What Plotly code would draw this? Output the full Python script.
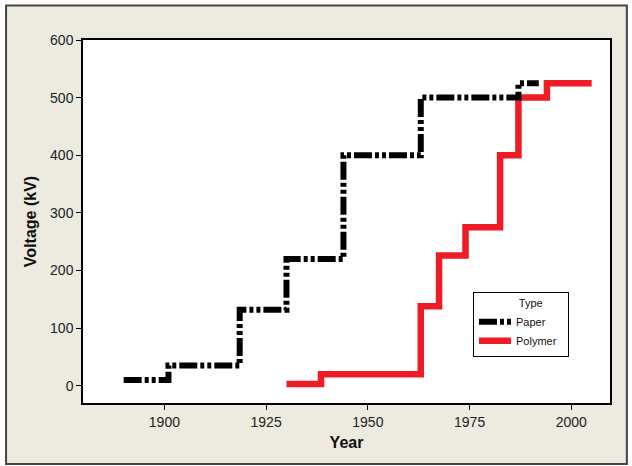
import plotly.graph_objects as go

# Data
paper_years = [1890, 1901, 1918.5, 1930, 1944, 1963, 1987, 1992]
paper_kv = [10, 35, 132, 220, 400, 500, 525, 525]

polymer_years = [1930, 1938.5, 1963, 1967.5, 1974, 1982.5, 1987, 1994, 2005]
polymer_kv = [3, 20, 138, 226, 275, 400, 500, 525, 525]

x_ticks = [1900, 1925, 1950, 1975, 2000]
y_ticks = [0, 100, 200, 300, 400, 500, 600]

FONT = "Liberation Sans"

fig = go.Figure()
fig.add_trace(go.Scatter(
    x=polymer_years, y=polymer_kv, name="Polymer\u00a0\u00a0", mode="lines",
    line=dict(shape="hv", color="#EE1C25", width=6.5), legendrank=2,
))
fig.add_trace(go.Scatter(
    x=paper_years, y=paper_kv, name="Paper", mode="lines",
    line=dict(shape="hv", color="black", width=6,
              dash="18px,3px,4px,3px,4px,3px"), legendrank=1,
))

axis_common = dict(
    showgrid=False, zeroline=False, showline=True, mirror=True,
    linecolor="black", linewidth=1.5,
    ticks="outside", ticklen=5, tickwidth=1, tickcolor="black",
    tickfont=dict(family=FONT, size=14, color="#222222"),
    automargin=False,
)

fig.update_xaxes(
    range=[1880, 2009.5], tickvals=x_ticks, ticktext=[str(v) for v in x_ticks],
    title=dict(text="<b>Year</b>", font=dict(family=FONT, size=16, color="#111111"),
               standoff=8),
    **axis_common,
)
fig.update_yaxes(
    range=[-30, 600], tickvals=y_ticks, ticktext=[str(v) for v in y_ticks],
    title=dict(text="<b>Voltage (kV)</b>", font=dict(family=FONT, size=16, color="#111111"),
               standoff=9),
    **axis_common,
)

# outer beige frame
fig.add_shape(
    type="rect", xref="paper", yref="paper",
    x0=-0.146, x1=1.032, y0=-0.168, y1=1.095,
    fillcolor="#EDEAE0", line=dict(color="#444444", width=2), layer="below",
)
# white plotting area
fig.add_shape(
    type="rect", xref="paper", yref="paper",
    x0=0, x1=1, y0=0, y1=1,
    fillcolor="white", line=dict(width=0), layer="below",
)

fig.update_layout(
    width=632, height=466,
    margin=dict(l=83, r=22, t=40, b=63, autoexpand=False),
    paper_bgcolor="white", plot_bgcolor="white",
    showlegend=True,
    legend=dict(
        x=0.74, y=0.306, xanchor="left", yanchor="top",
        bgcolor="white", bordercolor="black", borderwidth=1,
        font=dict(family=FONT, size=11, color="#111111"),
        title=dict(text="\u00a0" * 14 + "Type", font=dict(family=FONT, size=11, color="#111111")),
        itemwidth=32, tracegroupgap=0,
    ),
)

fig.write_html("out.html", config={"displayModeBar": False},
               post_script="document.body.style.margin='0px';")
